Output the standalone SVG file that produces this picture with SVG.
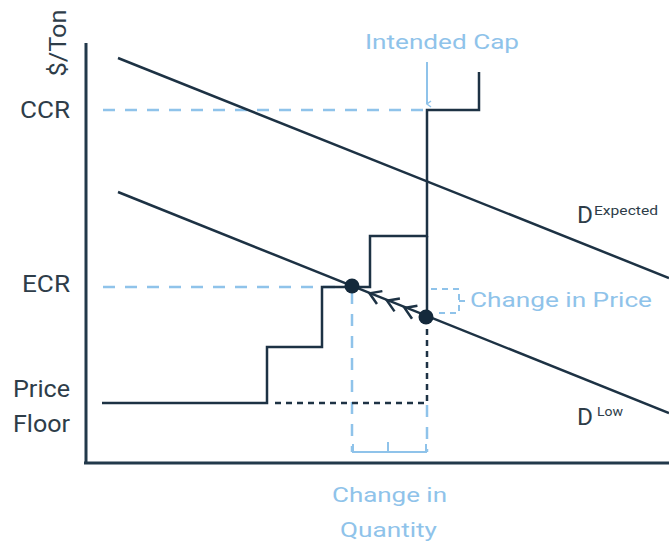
<svg xmlns="http://www.w3.org/2000/svg" width="669" height="543" viewBox="0 0 669 543">
<style>
.dk{fill:none;stroke:#1d3244;stroke-width:2.5}
.ax{fill:none;stroke:#22394b;stroke-width:3}
.bl{fill:none;stroke:#8fc3ea;stroke-width:2.5;stroke-dasharray:12 10}
.blS{fill:none;stroke:#8fc3ea;stroke-width:2}
.blD{fill:none;stroke:#8fc3ea;stroke-width:2;stroke-dasharray:6 5}
.kd{fill:none;stroke:#1d3244;stroke-width:2.5;stroke-dasharray:6 5}
.lab{font-family:Roboto,"Liberation Sans",sans-serif;font-size:24px;fill:#2e3d49}
.blt{font-family:Roboto,"Liberation Sans",sans-serif;font-size:21px;fill:#8fc3ea}
.sup{font-family:Roboto,"Liberation Sans",sans-serif;font-size:13px;fill:#2e3d49}
</style>
<defs>
<marker id="ah" markerWidth="8" markerHeight="8" refX="4" refY="6" orient="auto" markerUnits="userSpaceOnUse">
<path d="M1,2 L4,6 L7,2" fill="none" stroke="#8fc3ea" stroke-width="1.5"/>
</marker>
</defs>
<g id="axes">
<line class="ax" x1="86" y1="43" x2="86" y2="464"/>
<line class="ax" x1="84" y1="463" x2="669" y2="463"/>
</g>
<g id="guides">
<line class="bl" x1="103" y1="110" x2="427" y2="110"/>
<line class="bl" x1="103" y1="287" x2="352" y2="287"/>
<line class="bl" x1="352" y1="292" x2="352" y2="452"/>
<line class="bl" x1="427" y1="405" x2="427" y2="452"/>
<line class="blS" x1="427" y1="62" x2="427" y2="104" marker-end="url(#ah)"/>
</g>
<g id="curves">
<line class="dk" x1="118" y1="58" x2="669" y2="278"/>
<line class="dk" x1="118" y1="192" x2="669" y2="413"/>
<path class="dk" d="M102,403 H267 V347 H322 V287 H370 V236 H427 V110 H479 V72"/>
<line class="dk" x1="427" y1="236" x2="427" y2="317"/>
<path class="kd" d="M275,403 H427 V322"/>
</g>
<g id="movement">
<g transform="translate(352,286) rotate(22.7)">
<path class="dk" d="M30,-7 L19,0 L30,7 M49,-7 L38,0 L49,7 M68,-7 L57,0 L68,7" stroke-width="2.5"/>
</g>
<circle cx="352" cy="286" r="7.5" fill="#14293b"/>
<circle cx="426" cy="317" r="7.5" fill="#14293b"/>
</g>
<g id="brackets">
<path class="blD" d="M431,289 H459 V313 H439"/>
<line class="blS" x1="459" y1="301" x2="465" y2="301"/>
<path class="blS" d="M353,444 V452 H426 V444 M388,452 V442"/>
</g>
<g id="labels">
<text class="lab" x="66" y="43" text-anchor="middle" font-size="23" textLength="67" lengthAdjust="spacingAndGlyphs" transform="rotate(-90 66 43)">$/Ton</text>
<text class="lab" x="20" y="118" textLength="50" lengthAdjust="spacingAndGlyphs">CCR</text>
<text class="lab" x="22" y="292" textLength="48" lengthAdjust="spacingAndGlyphs">ECR</text>
<text class="lab" x="13" y="397" textLength="57" lengthAdjust="spacingAndGlyphs">Price</text>
<text class="lab" x="13" y="432" textLength="57" lengthAdjust="spacingAndGlyphs">Floor</text>
<text class="lab" x="577" y="223" font-size="23" textLength="16" lengthAdjust="spacingAndGlyphs">D</text>
<text class="sup" x="594" y="215" textLength="64" lengthAdjust="spacingAndGlyphs">Expected</text>
<text class="lab" x="577" y="425" font-size="23" textLength="16" lengthAdjust="spacingAndGlyphs">D</text>
<text class="sup" x="597" y="416" textLength="26" lengthAdjust="spacingAndGlyphs">Low</text>
<text class="blt" x="365" y="49" textLength="154" lengthAdjust="spacingAndGlyphs">Intended Cap</text>
<text class="blt" x="470" y="307" textLength="182" lengthAdjust="spacingAndGlyphs">Change in Price</text>
<text class="blt" x="332" y="502" font-size="23" textLength="115" lengthAdjust="spacingAndGlyphs">Change in</text>
<text class="blt" x="340" y="537" font-size="23" textLength="97" lengthAdjust="spacingAndGlyphs">Quantity</text>
</g>
</svg>
